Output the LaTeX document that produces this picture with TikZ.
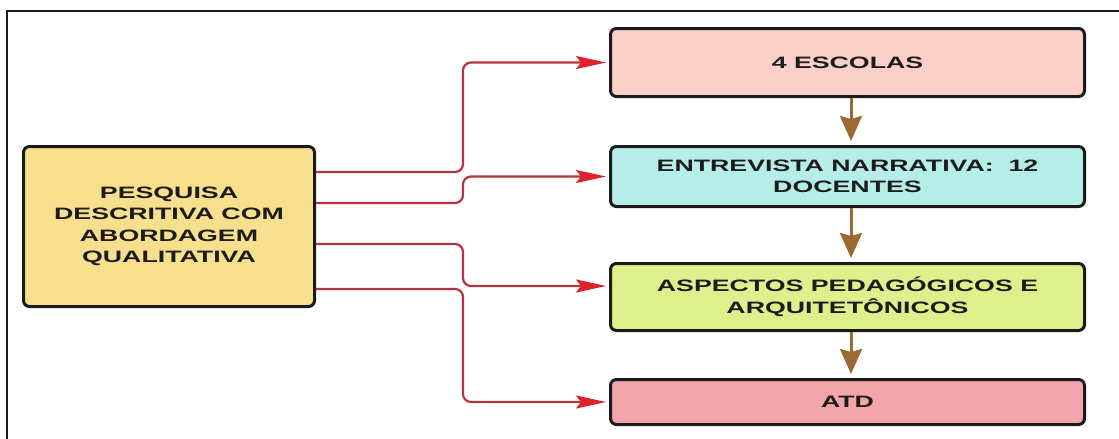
\documentclass[tikz,border=0pt]{standalone}
\usepackage{fontspec}
\usepackage{graphicx}
\setmainfont{Liberation Sans}
\newcommand{\widetxt}[1]{\scalebox{1.62}[1]{#1}}
\usetikzlibrary{arrows.meta}
\definecolor{frame}{HTML}{1A1A1A}
\definecolor{yel}{HTML}{F8DF8E}
\definecolor{pinkA}{HTML}{FBD0C8}
\definecolor{cyanB}{HTML}{B5EEE9}
\definecolor{limeC}{HTML}{DDF08C}
\definecolor{pinkD}{HTML}{F2A6AB}
\definecolor{redline}{HTML}{B8323F}
\definecolor{redtip}{HTML}{E0202A}
\definecolor{brownline}{HTML}{9A6A33}
\definecolor{txt}{HTML}{1C1C1C}
\tikzset{
  boxstyle/.style={draw=frame, line width=3pt, rounded corners=6pt, align=center,
    inner sep=0pt, text=txt, font=\bfseries\fontsize{16.5}{21.5}\selectfont},
  conn/.style={draw=redline, line width=2.2pt, rounded corners=8pt,
    -{Stealth[length=30pt,width=13pt,inset=5pt,color=redtip]}, shorten >=3pt},
  flow/.style={draw=brownline, line width=3pt,
    -{Stealth[length=25pt,width=22pt,inset=3pt]}, shorten >=4pt}
}
\begin{document}
\begin{tikzpicture}[x=1pt,y=-1pt]
\useasboundingbox (0,0) rectangle (1119,439);
\draw[frame, line width=2pt] (7,439) -- (7,11) -- (1119,11);

\node[boxstyle, fill=yel, minimum width=291pt, minimum height=160pt] (L) at (169,226.5)
  {\widetxt{PESQUISA}\\\widetxt{DESCRITIVA COM}\\\widetxt{ABORDAGEM}\\\widetxt{QUALITATIVA}};

\node[boxstyle, fill=pinkA, minimum width=474pt, minimum height=68pt] (b1) at (847.5,62.5) {\widetxt{4 ESCOLAS}};
\node[boxstyle, fill=cyanB, minimum width=474pt, minimum height=60pt] (b2) at (847.5,176.5) {\widetxt{ENTREVISTA NARRATIVA:~ 12}\\\widetxt{DOCENTES}};
\node[boxstyle, fill=limeC, minimum width=474pt, minimum height=67pt] (b3) at (847.5,297) {\widetxt{ASPECTOS PEDAGÓGICOS E}\\\widetxt{ARQUITETÔNICOS}};
\node[boxstyle, fill=pinkD, minimum width=474pt, minimum height=45pt] (b4) at (847.5,402) {\widetxt{ATD}};

\coordinate (y1) at (0,172);
\coordinate (y2) at (0,203);
\coordinate (y3) at (0,244);
\coordinate (y4) at (0,289);
\coordinate (xm) at (463,0);

\draw[conn] (L.east |- y1) -- (xm |- y1) -- (xm |- b1.west) -- (b1.west);
\draw[conn] (L.east |- y2) -- (xm |- y2) -- (xm |- b2.west) -- (b2.west);
\draw[conn] (L.east |- y3) -- (xm |- y3) -- ([yshift=11pt]xm |- b3.west) -- ([yshift=11pt]b3.west);
\draw[conn] (L.east |- y4) -- (xm |- y4) -- (xm |- b4.west) -- (b4.west);

\draw[flow] ([xshift=3.5pt]b1.south) -- ([xshift=3.5pt]b2.north);
\draw[flow] ([xshift=3.5pt]b2.south) -- ([xshift=3.5pt]b3.north);
\draw[flow] ([xshift=3.5pt]b3.south) -- ([xshift=3.5pt]b4.north);
\end{tikzpicture}
\end{document}
